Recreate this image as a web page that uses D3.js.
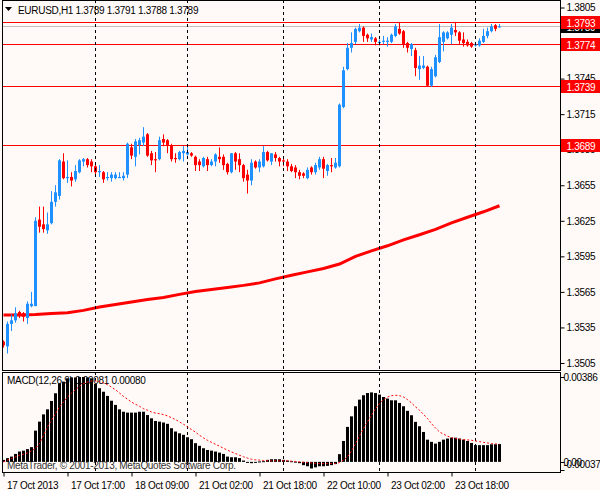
<!DOCTYPE html>
<html>
<head>
<meta charset="utf-8">
<script src="https://cdn.jsdelivr.net/npm/d3@7"></script>
<style>
body { margin: 0; background: #fffaf8; }
svg { display: block; font-family: "Liberation Sans", Arial, sans-serif; }
svg text { letter-spacing: -0.3px; }
</style>
</head>
<body>
<svg id="chart" width="600" height="490"></svg>
<script>

// ---- data ----
const titleText = "EURUSD,H1  1.3789 1.3791 1.3788 1.3789";
const macdTitle = "MACD(12,26,9) 0.00081 0.00080";
const copyright = "MetaTrader, \u00a9 2001-2013, MetaQuotes Software Corp.";

// open, high, low, close per hourly bar
const ohlc = [
  [1.3523,1.3524,1.3518,1.3520],[1.3519,1.3540,1.3513,1.3538],[1.3538,1.3546,1.3532,1.3541],[1.3541,1.3552,1.3539,1.3547],
  [1.3548,1.3549,1.3543,1.3546],[1.3547,1.3548,1.3540,1.3544],[1.3543,1.3557,1.3538,1.3555],[1.3553,1.3565,1.3552,1.3555],
  [1.3553,1.3628,1.3553,1.3625],[1.3626,1.3637,1.3615,1.3620],[1.3622,1.3637,1.3615,1.3618],[1.3617,1.3632,1.3614,1.3622],
  [1.3623,1.3650,1.3622,1.3641],[1.3641,1.3655,1.3637,1.3649],[1.3646,1.3677,1.3643,1.3676],[1.3675,1.3682,1.3660,1.3661],
  [1.3661,1.3676,1.3657,1.3662],[1.3662,1.3666,1.3654,1.3659],[1.3660,1.3672,1.3658,1.3667],[1.3666,1.3677,1.3665,1.3676],
  [1.3675,1.3678,1.3671,1.3677],[1.3677,1.3678,1.3670,1.3672],[1.3675,1.3677,1.3666,1.3671],[1.3671,1.3673,1.3664,1.3666],
  [1.3666,1.3672,1.3662,1.3667],[1.3666,1.3667,1.3657,1.3660],[1.3661,1.3666,1.3659,1.3662],[1.3661,1.3666,1.3658,1.3664],
  [1.3661,1.3666,1.3660,1.3664],[1.3661,1.3666,1.3661,1.3662],[1.3661,1.3666,1.3659,1.3663],[1.3664,1.3691,1.3661,1.3690],
  [1.3687,1.3690,1.3677,1.3680],[1.3679,1.3694,1.3671,1.3692],[1.3689,1.3695,1.3681,1.3693],[1.3691,1.3704,1.3688,1.3696],
  [1.3698,1.3699,1.3679,1.3680],[1.3682,1.3684,1.3672,1.3676],[1.3677,1.3683,1.3666,1.3676],[1.3677,1.3696,1.3676,1.3693],
  [1.3694,1.3698,1.3688,1.3691],[1.3693,1.3694,1.3682,1.3689],[1.3689,1.3690,1.3675,1.3677],[1.3678,1.3682,1.3674,1.3677],
  [1.3677,1.3684,1.3676,1.3683],[1.3682,1.3688,1.3675,1.3684],[1.3681,1.3688,1.3680,1.3683],[1.3682,1.3683,1.3679,1.3680],
  [1.3679,1.3680,1.3667,1.3672],[1.3675,1.3677,1.3667,1.3672],[1.3671,1.3679,1.3670,1.3678],[1.3677,1.3679,1.3667,1.3672],
  [1.3672,1.3677,1.3671,1.3675],[1.3675,1.3682,1.3671,1.3681],[1.3679,1.3687,1.3674,1.3677],[1.3679,1.3681,1.3668,1.3672],
  [1.3673,1.3674,1.3664,1.3666],[1.3666,1.3682,1.3665,1.3682],[1.3682,1.3683,1.3668,1.3675],[1.3677,1.3682,1.3666,1.3672],
  [1.3672,1.3673,1.3658,1.3661],[1.3664,1.3668,1.3648,1.3659],[1.3659,1.3677,1.3655,1.3674],[1.3675,1.3676,1.3669,1.3670],
  [1.3670,1.3677,1.3666,1.3675],[1.3671,1.3688,1.3670,1.3683],[1.3683,1.3684,1.3675,1.3676],[1.3675,1.3682,1.3672,1.3682],
  [1.3681,1.3683,1.3675,1.3678],[1.3678,1.3679,1.3671,1.3675],[1.3676,1.3679,1.3671,1.3675],[1.3675,1.3677,1.3667,1.3671],
  [1.3671,1.3673,1.3666,1.3667],[1.3670,1.3672,1.3661,1.3666],[1.3666,1.3668,1.3660,1.3663],[1.3665,1.3666,1.3661,1.3663],
  [1.3661,1.3670,1.3660,1.3668],[1.3670,1.3671,1.3664,1.3666],[1.3666,1.3674,1.3664,1.3672],[1.3670,1.3679,1.3668,1.3677],
  [1.3677,1.3679,1.3661,1.3669],[1.3667,1.3673,1.3663,1.3672],[1.3672,1.3678,1.3666,1.3671],[1.3670,1.3678,1.3669,1.3674],
  [1.3671,1.3724,1.3670,1.3723],[1.3721,1.3755,1.3720,1.3752],[1.3753,1.3775,1.3752,1.3771],[1.3771,1.3784,1.3767,1.3775],
  [1.3776,1.3788,1.3774,1.3787],[1.3785,1.3791,1.3784,1.3788],[1.3788,1.3789,1.3776,1.3781],[1.3782,1.3783,1.3776,1.3779],
  [1.3778,1.3783,1.3776,1.3780],[1.3779,1.3780,1.3773,1.3776],[1.3775,1.3778,1.3773,1.3776],[1.3776,1.3781,1.3774,1.3777],
  [1.3776,1.3780,1.3772,1.3777],[1.3776,1.3783,1.3775,1.3782],[1.3781,1.3791,1.3780,1.3789],[1.3787,1.3792,1.3782,1.3783],
  [1.3785,1.3786,1.3771,1.3774],[1.3775,1.3776,1.3767,1.3771],[1.3770,1.3775,1.3764,1.3774],[1.3769,1.3771,1.3747,1.3754],
  [1.3753,1.3764,1.3744,1.3756],[1.3754,1.3764,1.3753,1.3756],[1.3755,1.3756,1.3738,1.3739],[1.3739,1.3755,1.3738,1.3753],
  [1.3747,1.3765,1.3746,1.3763],[1.3759,1.3791,1.3758,1.3780],[1.3776,1.3785,1.3768,1.3784],[1.3779,1.3785,1.3778,1.3784],
  [1.3782,1.3791,1.3774,1.3788],[1.3786,1.3792,1.3781,1.3784],[1.3784,1.3785,1.3774,1.3777],[1.3778,1.3784,1.3772,1.3775],
  [1.3776,1.3778,1.3772,1.3773],[1.3775,1.3776,1.3771,1.3772],[1.3773,1.3775,1.3772,1.3774],[1.3773,1.3779,1.3772,1.3777],
  [1.3776,1.3787,1.3775,1.3781],[1.3781,1.3788,1.3779,1.3785],[1.3785,1.3791,1.3784,1.3789],[1.3790,1.3791,1.3785,1.3787],
  [1.3789,1.3791,1.3788,1.3789]
];

// moving average (red thick line), sampled every 4 bars
const maIndex  = [0,4,8,12,16,20,24,28,32,36,40,44,48,52,56,60,64,68,72,76,80,84,88,92,96,100,104,108,112,116,120,124];
const maValues = [1.35456,1.35456,1.35460,1.35468,1.35475,1.35494,1.35523,1.35544,1.35565,1.35585,1.35603,1.35629,
                  1.35654,1.35671,1.35688,1.35705,1.35726,1.35760,1.35790,1.35819,1.35848,1.35885,1.35950,1.35996,
                  1.36039,1.36089,1.36132,1.36178,1.36233,1.36280,1.36326,1.36377];

const levels = [1.3793, 1.3774, 1.3739, 1.3689];
const bidPrice = 1.3789;
const priceTicks = [1.3505,1.3535,1.3565,1.3595,1.3625,1.3655,1.3685,1.3715,1.3745,1.3775,1.3805];

const macdHist = [
  0.00009,0.00017,0.00024,0.00036,0.00047,0.00051,0.00058,0.00067,0.00142,0.00183,0.00216,0.00239,0.00277,0.00312,0.00357,0.00365,
  0.00380,0.00384,0.00384,0.00386,0.00386,0.00384,0.00380,0.00354,0.00335,0.00319,0.00300,0.00278,0.00259,0.00239,0.00228,0.00224,
  0.00224,0.00224,0.00228,0.00228,0.00213,0.00198,0.00186,0.00183,0.00179,0.00173,0.00153,0.00138,0.00130,0.00123,0.00112,0.00103,
  0.00085,0.00073,0.00062,0.00054,0.00051,0.00047,0.00042,0.00036,0.00024,0.00021,0.00021,0.00017,0.00006,-0.00003,-0.00006,-0.00003,
  0.00002,0.00003,0.00009,0.00012,0.00012,0.00012,0.00009,0.00006,0.00003,0.00001,-0.00006,-0.00015,-0.00020,-0.00030,-0.00025,-0.00020,
  -0.00020,-0.00018,-0.00015,-0.00010,0.00035,0.00095,0.00159,0.00207,0.00253,0.00283,0.00303,0.00313,0.00316,0.00313,0.00306,0.00295,
  0.00288,0.00280,0.00280,0.00268,0.00253,0.00232,0.00212,0.00182,0.00162,0.00136,0.00101,0.00091,0.00083,0.00091,0.00101,0.00106,
  0.00110,0.00110,0.00106,0.00101,0.00095,0.00086,0.00076,0.00076,0.00076,0.00076,0.00080,0.00080,0.00081
];

const macdSignal = [
  0.00000,0.00008,0.00015,0.00023,0.00030,0.00035,0.00041,0.00050,0.00061,0.00083,0.00121,0.00159,0.00189,0.00219,0.00250,0.00272,
  0.00295,0.00313,0.00328,0.00344,0.00356,0.00363,0.00368,0.00368,0.00365,0.00359,0.00351,0.00340,0.00328,0.00313,0.00298,0.00285,
  0.00272,0.00262,0.00253,0.00242,0.00235,0.00227,0.00222,0.00219,0.00215,0.00209,0.00201,0.00192,0.00182,0.00171,0.00159,0.00147,
  0.00135,0.00121,0.00109,0.00098,0.00089,0.00080,0.00071,0.00062,0.00053,0.00045,0.00038,0.00030,0.00023,0.00017,0.00012,0.00009,
  0.00008,0.00006,0.00005,0.00005,0.00005,0.00005,0.00005,0.00005,0.00003,0.00002,0.00000,-0.00002,-0.00003,-0.00005,-0.00006,-0.00008,
  -0.00008,-0.00008,-0.00008,-0.00008,-0.00003,0.00008,0.00023,0.00050,0.00083,0.00117,0.00151,0.00182,0.00212,0.00242,0.00265,0.00283,
  0.00295,0.00301,0.00303,0.00301,0.00295,0.00283,0.00268,0.00250,0.00235,0.00216,0.00197,0.00174,0.00154,0.00136,0.00126,0.00117,
  0.00110,0.00106,0.00103,0.00101,0.00100,0.00098,0.00095,0.00092,0.00089,0.00086,0.00083,0.00082,0.00080
];
const macdMax = 0.00386, macdMin = -0.00037;

const timeLabels = ["17 Oct 2013","17 Oct 17:00","18 Oct 09:00","21 Oct 02:00","21 Oct 18:00","22 Oct 10:00","23 Oct 02:00","23 Oct 18:00"];
const timeLabelIdx = [0,16,32,48,64,80,96,112];
const gridIdx = [23,46,70,94,118];

// ---- drawing ----
const svg = d3.select("#chart");
const bull = "#1e90ff", bear = "#ff0000";
const left = 2.5, right = 560.5;
const fs = 10;

const x = d3.scaleLinear().domain([0, 124]).range([3.5, 499.5]);
const y = d3.scaleLinear().domain([1.3505, 1.3805]).range([363, 7.5]);
const ym = d3.scaleLinear().domain([macdMin, macdMax]).range([470, 377]);

svg.append("rect").attr("width", 600).attr("height", 490).attr("fill", "#fffaf8");

svg.append("defs").append("clipPath").attr("id", "mainClip")
  .append("rect").attr("x", left).attr("y", 0.5).attr("width", right - left).attr("height", 370);

// title
svg.append("path").attr("d", "M5,7 L12,7 L8.5,11 Z").attr("fill", "#000");
svg.append("text").attr("x", 18).attr("y", 14).attr("font-size", fs).text(titleText);

const main = svg.append("g").attr("clip-path", "url(#mainClip)");

// vertical dashed grid
gridIdx.forEach(function(i) {
  [[0, 370], [372, 472]].forEach(function(seg) {
    svg.append("line")
      .attr("x1", Math.round(x(i)) - 0.5).attr("x2", Math.round(x(i)) - 0.5)
      .attr("y1", seg[0]).attr("y2", seg[1])
      .attr("stroke", "#000").attr("stroke-dasharray", "3,3");
  });
});

// bid line and horizontal levels
main.append("line").attr("x1", left).attr("x2", right)
  .attr("y1", Math.round(y(bidPrice)) + 0.5).attr("y2", Math.round(y(bidPrice)) + 0.5)
  .attr("stroke", "#c0c0c0");
main.selectAll("line.level").data(levels).enter().append("line")
  .attr("class", "level")
  .attr("x1", left).attr("x2", right)
  .attr("y1", d => Math.round(y(d)) + 0.5).attr("y2", d => Math.round(y(d)) + 0.5)
  .attr("stroke", "#ff0000");

// moving average
main.append("path")
  .datum(maIndex.map((d, i) => [d, maValues[i]]))
  .attr("fill", "none").attr("stroke", "#ff0000").attr("stroke-width", 3)
  .attr("d", d3.line().x(d => x(d[0])).y(d => y(d[1])));

// candles
const candle = main.selectAll("g.candle").data(ohlc).enter().append("g").attr("class", "candle");
candle.append("line")
  .attr("x1", (d, i) => x(i)).attr("x2", (d, i) => x(i))
  .attr("y1", d => y(d[1])).attr("y2", d => y(d[2]))
  .attr("stroke", d => d[3] >= d[0] ? bull : bear);
candle.append("rect")
  .attr("x", (d, i) => x(i) - 1.5).attr("width", 3)
  .attr("y", d => Math.min(y(d[0]), y(d[3])))
  .attr("height", d => Math.max(1, Math.abs(y(d[0]) - y(d[3]))))
  .attr("fill", d => d[3] >= d[0] ? bull : bear);

// frames
svg.append("rect").attr("x", left).attr("y", 0.5).attr("width", right - left).attr("height", 370)
  .attr("fill", "none").attr("stroke", "#000");
svg.append("rect").attr("x", left).attr("y", 372.5).attr("width", right - left).attr("height", 100)
  .attr("fill", "none").attr("stroke", "#000");

// price axis
const pAxis = svg.append("g").attr("transform", "translate(" + right + ",0)")
  .call(d3.axisRight(y).tickValues(priceTicks).tickSize(4).tickFormat(d3.format(".4f")));
pAxis.select(".domain").remove();
pAxis.selectAll("text").attr("font-size", fs).attr("font-family", "Liberation Sans, Arial, sans-serif").attr("x", 6);

// bid box and level boxes
const boxes = [{v: bidPrice, c: "#000"}].concat(levels.map(v => ({v: v, c: "#ff0000"})));
boxes.forEach(function(b) {
  svg.append("rect").attr("x", right + 0.5).attr("y", Math.round(y(b.v)) - 6)
    .attr("width", 40).attr("height", 13).attr("fill", b.c);
  svg.append("text").attr("x", right + 6).attr("y", Math.round(y(b.v)) + 4.5)
    .attr("font-size", fs).attr("fill", "#fff").text(d3.format(".4f")(b.v));
});

// macd panel
const macd = svg.append("g");
macd.append("text").attr("x", 7).attr("y", 384).attr("font-size", fs).text(macdTitle);
macd.append("text").attr("x", 7).attr("y", 469).attr("font-size", fs).attr("fill", "#333").text(copyright);

macd.selectAll("rect.hist").data(macdHist).enter().append("rect")
  .attr("class", "hist")
  .attr("x", (d, i) => x(i) - 1.5).attr("width", 3)
  .attr("y", d => Math.min(ym(d), ym(0)))
  .attr("height", d => Math.max(1, Math.abs(ym(d) - ym(0))))
  .attr("fill", "#000");

macd.append("path").datum(macdSignal)
  .attr("fill", "none").attr("stroke", "#ff0000").attr("stroke-dasharray", "2,2")
  .attr("d", d3.line().x((d, i) => x(i)).y(d => ym(d)));

[[macdMax, 4], [0, 4], [macdMin, -2]].forEach(function(t) {
  svg.append("line").attr("x1", right).attr("x2", right + 4)
    .attr("y1", Math.round(ym(t[0])) + 0.5).attr("y2", Math.round(ym(t[0])) + 0.5).attr("stroke", "#000");
  svg.append("text").attr("x", right + 3).attr("y", ym(t[0]) + t[1])
    .attr("font-size", fs).text(t[0] === 0 ? "0.00" : d3.format(".5f")(t[0]).replace("\u2212", "-"));
});

// time axis
const tAxis = svg.append("g").attr("transform", "translate(0,472.5)")
  .call(d3.axisBottom(x).tickValues(timeLabelIdx).tickSize(4).tickFormat((d, i) => timeLabels[i]));
tAxis.select(".domain").remove();
tAxis.selectAll("text").attr("font-size", fs).attr("font-family", "Liberation Sans, Arial, sans-serif")
  .attr("text-anchor", "start").attr("x", 3).attr("dy", "0.9em").attr("fill", "#000");

</script>
</body>
</html>
